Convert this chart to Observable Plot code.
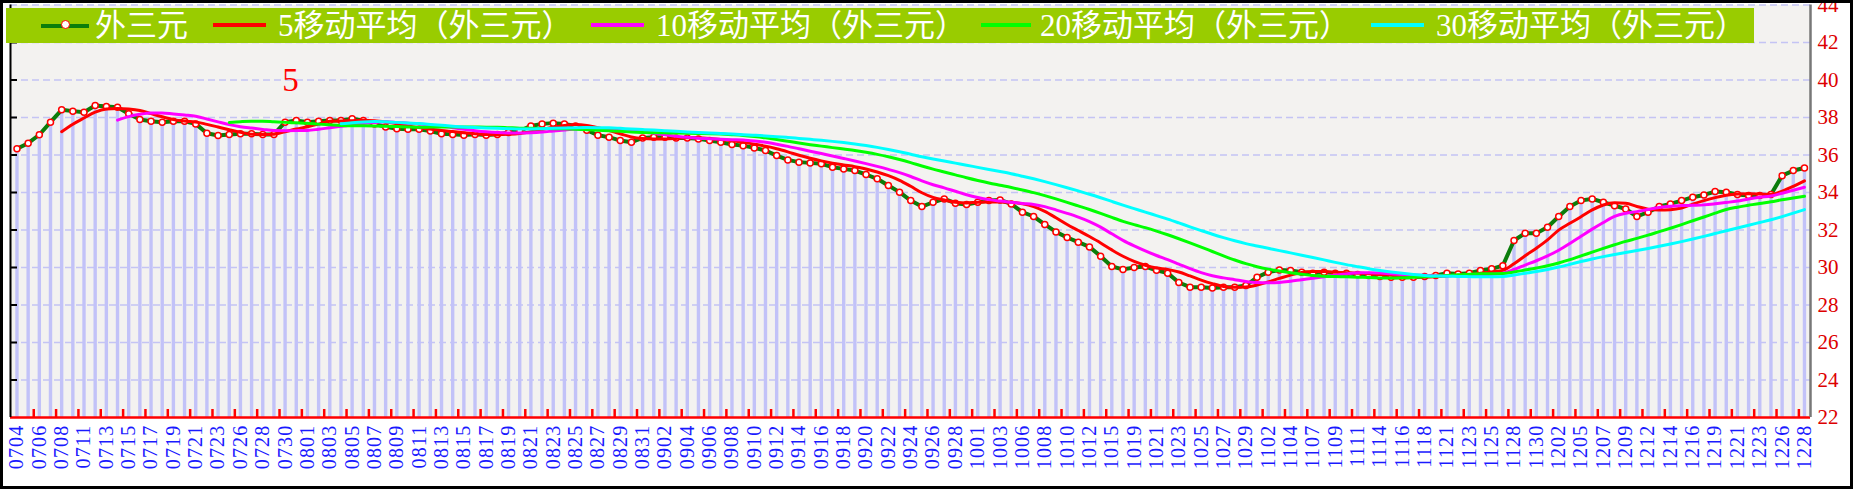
<!DOCTYPE html>
<html><head><meta charset="utf-8">
<script src="https://cdn.jsdelivr.net/npm/d3@7"></script>
<script src="https://cdn.jsdelivr.net/npm/@observablehq/plot@0.6"></script>
<style>
html,body{margin:0;padding:0;background:#fff;}
#wrap{position:relative;width:1853px;height:489px;box-sizing:border-box;border:3px solid #000;overflow:hidden;background:#fff;}
#chart{position:absolute;left:0;top:0;}
#legend{position:absolute;left:3px;top:5px;width:1748px;height:35px;background:#99cc00;}
.li{position:absolute;top:0;height:35px;line-height:35px;color:#fff;font-size:31px;font-family:"Liberation Serif","Noto Sans CJK SC",serif;white-space:nowrap;}
.sw{position:absolute;top:15px;height:4px;}
.mk{position:absolute;top:12px;left:20px;width:7px;height:7px;border-radius:50%;background:#fff;border:1.5px solid #ff0000;}
</style></head>
<body>
<div id="wrap"><div id="chart"></div><div id="legend"></div></div>
<script>
const dates = ["0704","0705","0706","0707","0708","0710","0711","0712","0713","0714",
"0715","0716","0717","0718","0719","0720","0721","0722","0723","0725",
"0726","0727","0728","0729","0730","0731","0801","0802","0803","0804",
"0805","0806","0807","0808","0809","0810","0811","0812","0813","0814",
"0815","0816","0817","0818","0819","0820","0821","0822","0823","0824",
"0825","0826","0827","0828","0829","0830","0831","0901","0902","0903",
"0904","0905","0906","0907","0908","0909","0910","0911","0912","0913",
"0914","0915","0916","0917","0918","0919","0920","0921","0922","0923",
"0924","0925","0926","0927","0928","0930","1001","1002","1003","1005",
"1006","1007","1008","1009","1010","1011","1012","1013","1015","1017",
"1019","1020","1021","1022","1023","1024","1025","1026","1027","1028",
"1029","1101","1102","1103","1104","1105","1107","1108","1109","1110",
"1111","1112","1114","1115","1116","1117","1118","1119","1121","1122",
"1123","1124","1125","1126","1128","1129","1130","1201","1202","1203",
"1205","1206","1207","1208","1209","1211","1212","1213","1214","1215",
"1216","1217","1219","1220","1221","1222","1223","1224","1226","1227",
"1228"];

const values = [36.33,36.63,37.08,37.75,38.41,38.34,38.28,38.64,38.59,38.55,
38.2,37.89,37.8,37.75,37.8,37.8,37.66,37.16,37.04,37.09,
37.13,37.13,37.1,37.1,37.75,37.84,37.75,37.8,37.84,37.84,
37.93,37.84,37.66,37.5,37.4,37.37,37.37,37.28,37.13,37.1,
37.06,37.1,37.06,37.1,37.2,37.28,37.55,37.66,37.7,37.66,
37.55,37.32,37.06,36.95,36.77,36.68,36.91,36.95,36.95,36.91,
36.91,36.86,36.77,36.68,36.56,36.5,36.38,36.24,35.97,35.74,
35.62,35.58,35.53,35.35,35.26,35.17,34.96,34.73,34.37,34.02,
33.57,33.25,33.48,33.66,33.43,33.36,33.48,33.57,33.6,33.39,
32.95,32.72,32.3,31.9,31.6,31.35,31.1,30.6,30.05,29.9,
30.0,30.05,29.85,29.7,29.2,28.95,28.95,28.91,28.95,28.95,
29.04,29.48,29.75,29.87,29.84,29.75,29.7,29.75,29.7,29.7,
29.63,29.57,29.52,29.48,29.48,29.48,29.52,29.57,29.7,29.66,
29.7,29.84,29.93,30.1,31.44,31.83,31.83,32.15,32.72,33.25,
33.57,33.66,33.48,33.3,33.12,32.72,32.95,33.25,33.39,33.57,
33.75,33.87,34.05,34.01,33.89,33.84,33.84,33.89,34.9,35.17,
35.31];

const tickLabels = ["0704","0706","0708","0711","0713","0715","0717","0719","0721","0723",
"0726","0728","0730","0801","0803","0805","0807","0809","0811","0813",
"0815","0817","0819","0821","0823","0825","0827","0829","0831","0902",
"0904","0906","0908","0910","0912","0914","0916","0918","0920","0922",
"0924","0926","0928","1001","1003","1006","1008","1010","1012","1015",
"1019","1021","1023","1025","1027","1029","1102","1104","1107","1109",
"1111","1114","1116","1118","1121","1123","1125","1128","1130","1202",
"1205","1207","1209","1212","1214","1216","1219","1221","1223","1226",
"1228"];

const yTicks = [22,24,26,28,30,32,34,36,38,40,42,44];
const seriesName = "外三元";
const maPeriods = [5, 10, 20, 30];
const maColors = ["#ff0000", "#ff00ff", "#00ff00", "#00ffff"];
const annotation = ["5"];

const data = values.map((v, i) => ({i, date: dates[i], v}));

const W = 1847, H = 483;
const mL = 7, mR = 40, mT = 1.5, mB = 69;
const frameW = W - mL - mR, frameH = H - mT - mB;
const xDom = [-0.58, 160.54];
const bandTicks = d3.range(1.5, dates.length - 1, 2);

const maMarks = maPeriods.map((k, j) =>
  Plot.line(data, Plot.windowY({k, anchor: "end", strict: true},
    {x: "i", y: "v", stroke: maColors[j], strokeWidth: 3, curve: "monotone-x"})));

const chart = Plot.plot({
  width: W, height: H,
  marginLeft: mL, marginRight: mR, marginTop: mT, marginBottom: mB,
  style: {background: "transparent", overflow: "hidden"},
  x: {type: "linear", domain: xDom, axis: null},
  y: {domain: [22, 44], axis: null},
  marks: [
    Plot.frame({fill: "#f3f2f0", stroke: null}),
    Plot.ruleY(yTicks.slice(1), {y: d => d, stroke: "#c4c4f4", strokeWidth: 1.6, strokeDasharray: "7,4"}),
    Plot.ruleX(data, {x: "i", y1: 22, y2: "v", stroke: "#c2c2f8", strokeWidth: 3.4}),
    Plot.line(data, {x: "i", y: "v", stroke: "#0b7d0b", strokeWidth: 4}),
    Plot.dot(data, {x: "i", y: "v", r: 3, fill: "white", stroke: "#ff0000", strokeWidth: 1.5}),
    ...maMarks,
    Plot.ruleY([22], {y: d => d, stroke: "#ff0000", strokeWidth: 2.5}),
    Plot.ruleX(bandTicks, {x: d => d, stroke: "#ff0000", strokeWidth: 2.5, insetTop: frameH - 8}),
    Plot.ruleX([xDom[0]], {x: d => d, stroke: "#000", strokeWidth: 2}),
    Plot.ruleY(yTicks.slice(1, -1), {y: d => d, stroke: "#000", strokeWidth: 2, insetRight: frameW - 7}),
    Plot.ruleX([xDom[1]], {x: d => d, stroke: "#777", strokeWidth: 2.5}),
    Plot.axisY({anchor: "right", ticks: yTicks, tickSize: 0, tickPadding: 7, label: null,
      fill: "#dd0000", fontSize: 21, fontFamily: "Liberation Serif"}),
    Plot.text(tickLabels, {x: d => dates.indexOf(d), text: d => d, frameAnchor: "bottom",
      rotate: -90, textAnchor: "end", lineAnchor: "middle", dy: 7,
      fill: "#1a1aff", fontSize: 20, fontFamily: "Liberation Serif"}),
    Plot.text(annotation, {text: d => d, frameAnchor: "top-left", dx: 280, dy: 75,
      textAnchor: "middle", lineAnchor: "middle", fill: "#ff0000", fontSize: 33, fontFamily: "Liberation Serif"})
  ]
});
document.getElementById("chart").appendChild(chart);
chart.querySelectorAll("text").forEach(t => { if (/^\d{4}$/.test(t.textContent)) t.setAttribute("letter-spacing", "1.2"); });

// legend
const legendItems = [
  {label: seriesName, color: "#0b7d0b", marker: true, sx: 35, sw: 48, tx: 89},
  {label: maPeriods[0] + "移动平均（" + seriesName + "）", color: maColors[0], sx: 207, sw: 53, tx: 272},
  {label: maPeriods[1] + "移动平均（" + seriesName + "）", color: maColors[1], sx: 585, sw: 53, tx: 650},
  {label: maPeriods[2] + "移动平均（" + seriesName + "）", color: maColors[2], sx: 975, sw: 50, tx: 1034},
  {label: maPeriods[3] + "移动平均（" + seriesName + "）", color: maColors[3], sx: 1365, sw: 53, tx: 1430}
];
const lg = document.getElementById("legend");
for (const it of legendItems) {
  const s = document.createElement("div");
  s.className = "sw";
  s.style.left = it.sx + "px"; s.style.width = it.sw + "px"; s.style.background = it.color;
  if (it.marker) { const m = document.createElement("div"); m.className = "mk"; s.appendChild(m); s.style.top = "16px"; m.style.top = "-4.5px"; }
  lg.appendChild(s);
  const t = document.createElement("div");
  t.className = "li"; t.style.left = it.tx + "px"; t.textContent = it.label;
  lg.appendChild(t);
}
</script>
</body></html>
